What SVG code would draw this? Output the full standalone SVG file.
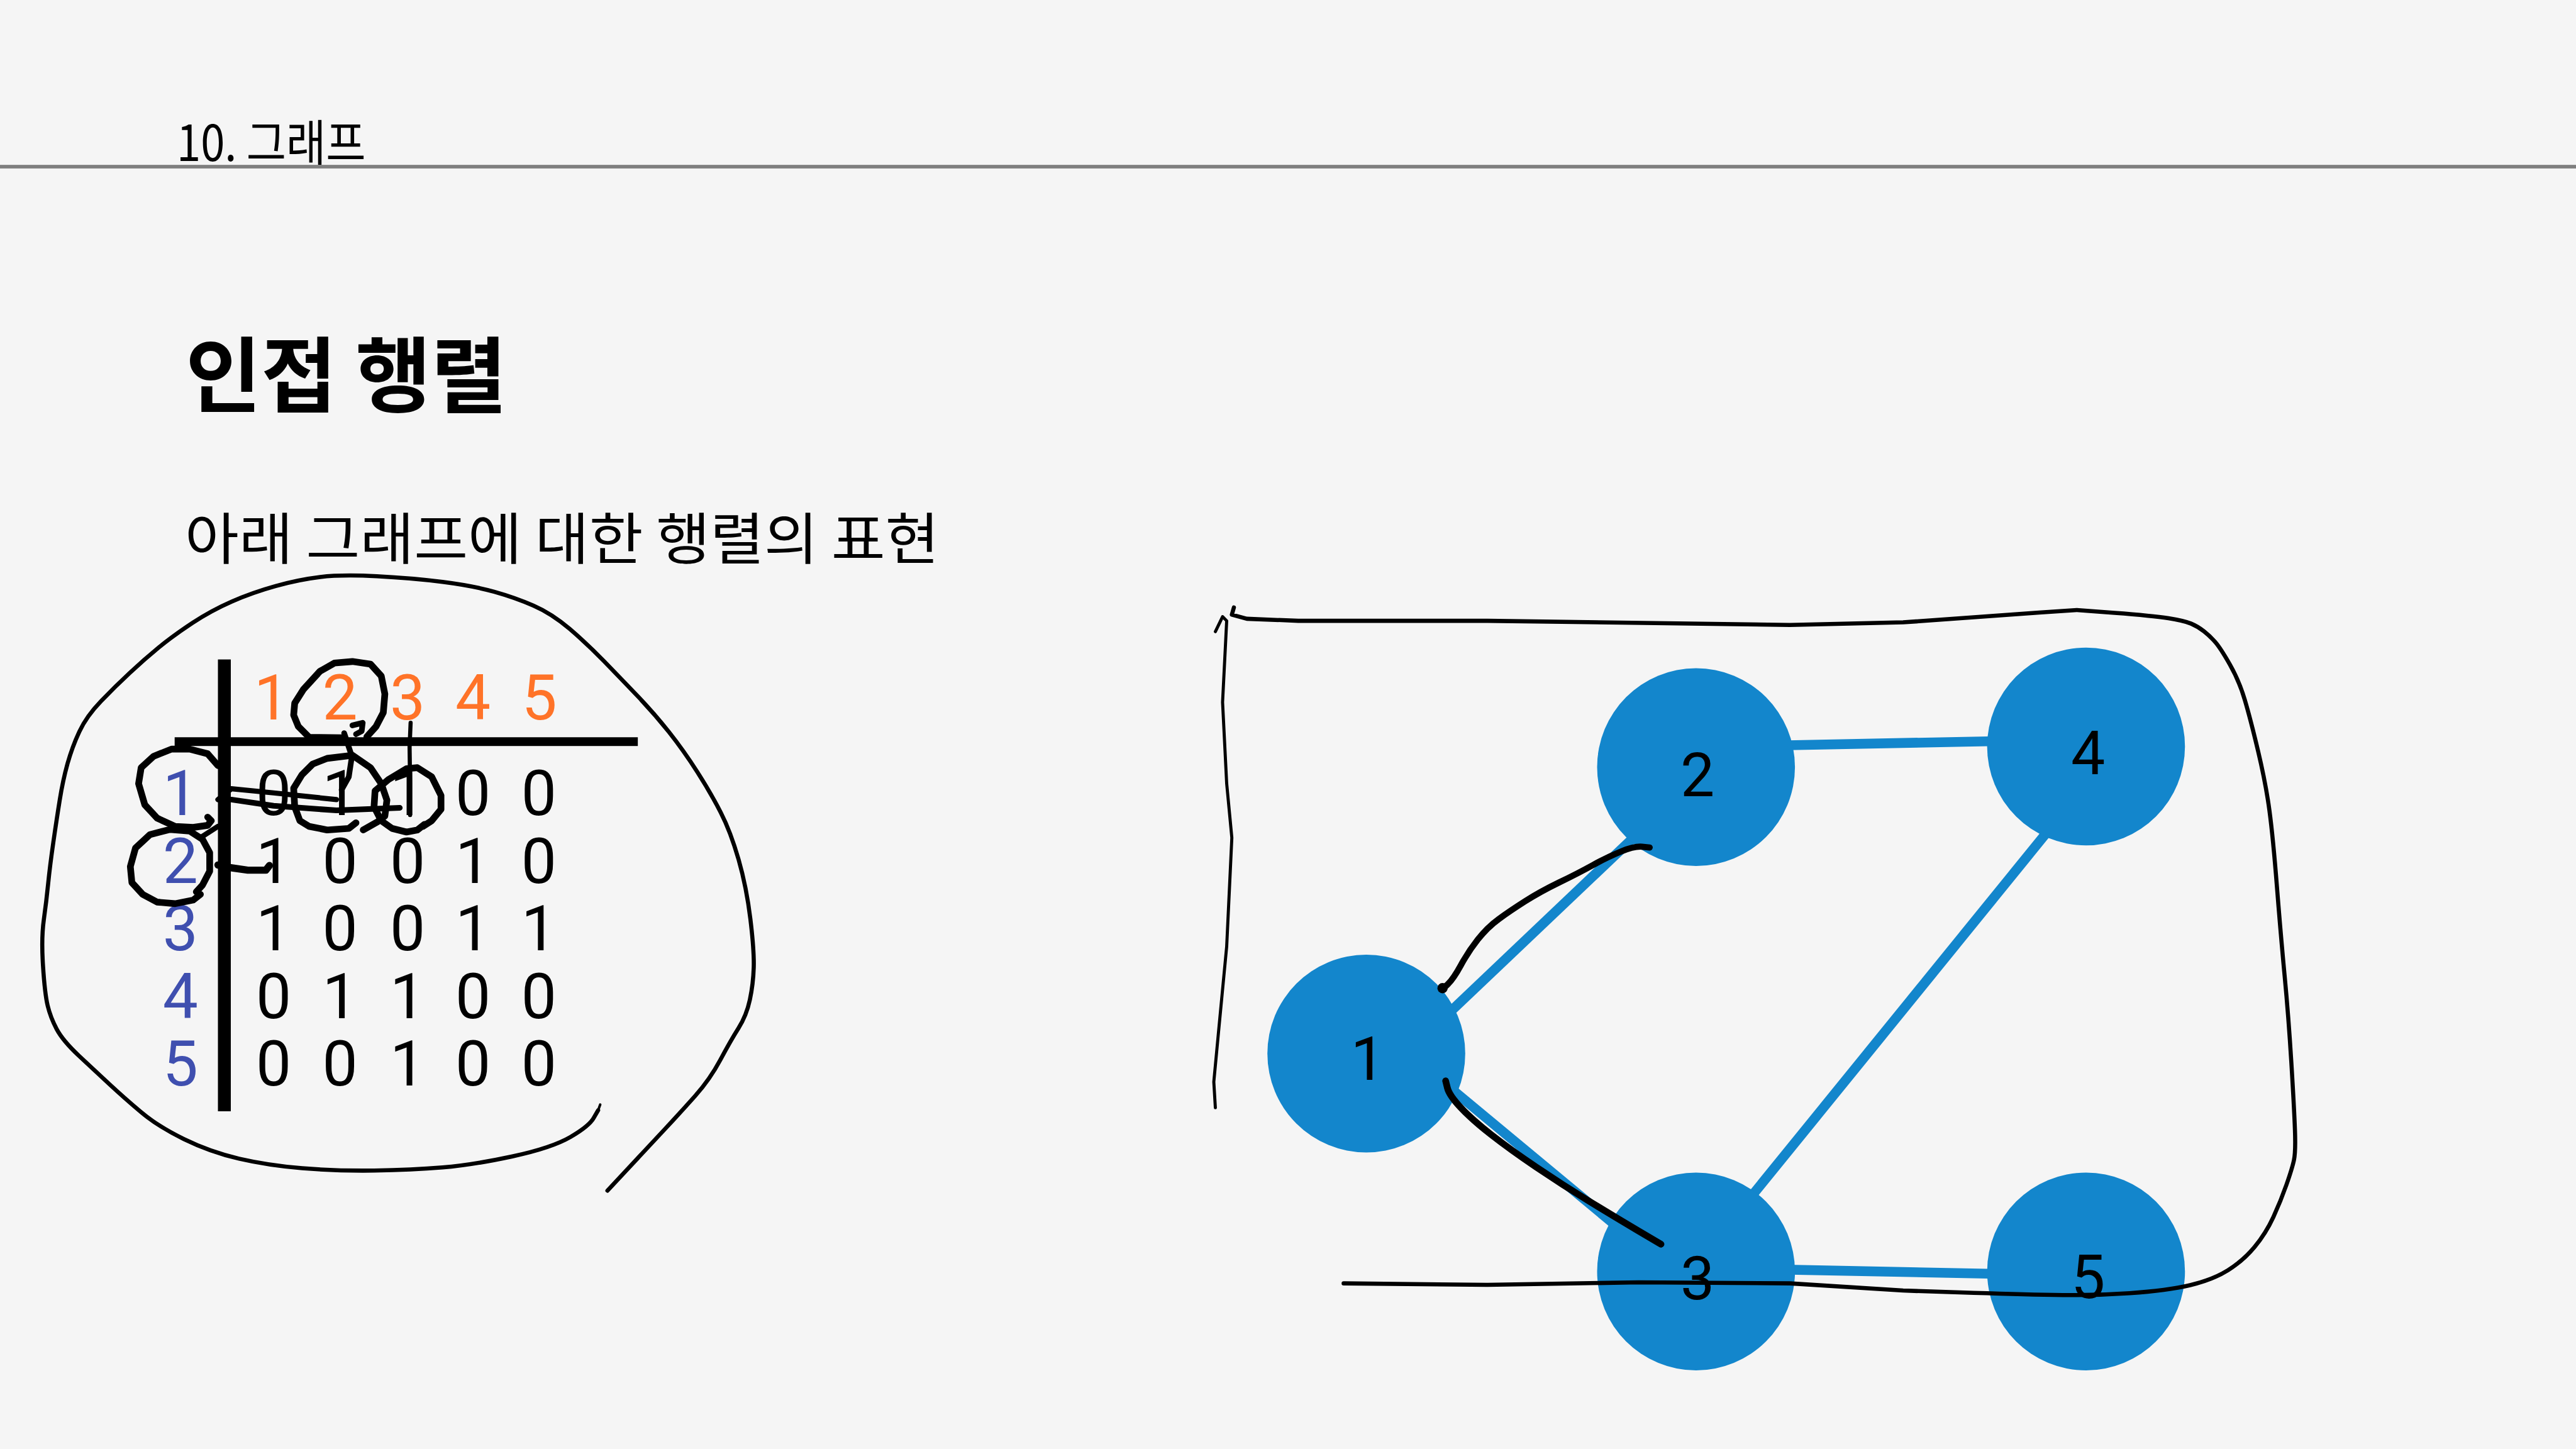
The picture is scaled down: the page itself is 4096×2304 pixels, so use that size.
<svg xmlns="http://www.w3.org/2000/svg" width="4096" height="2304" viewBox="0 0 4096 2304">
<style>
.kr{font-family:"Noto Sans CJK KR","Noto Sans",sans-serif;fill:#000}
.num{font-family:Roboto,"Liberation Sans",sans-serif;font-size:122px;text-anchor:middle}
.cell{fill:#000}
.col{fill:#FF7328}
.row{fill:#3F4FAF}
.hand{fill:none;stroke:#000;stroke-linecap:round;stroke-linejoin:round}
.edge{stroke:#1386CC;stroke-width:19;fill:none}
.node{fill:#1386CC}
.lbl{font-family:Roboto,"Liberation Sans",sans-serif;font-size:118px;text-anchor:middle;fill:#000}
</style>
<rect width="4096" height="2304" fill="#F5F5F5"/>
<g transform="scale(0.8192)">
  <g id="header">
    <text class="kr" x="343" y="313" font-size="96" textLength="367" lengthAdjust="spacingAndGlyphs">10. 그래프</text>
    <rect x="0" y="320" width="5000" height="7" fill="#7F7F7F"/>
  </g>
  <g id="title">
    <text class="kr" x="360" y="787" font-size="160" font-weight="bold" textLength="624" lengthAdjust="spacingAndGlyphs">인접 행렬</text>
  </g>
  <g id="subtitle">
    <text class="kr" x="359" y="1085" font-size="108" textLength="1464" lengthAdjust="spacingAndGlyphs">아래 그래프에 대한 행렬의 표현</text>
  </g>

  <g id="matrix">
    <rect x="423" y="1280" width="25" height="877" fill="#000"/>
    <rect x="339" y="1431" width="899" height="17" fill="#000"/>
    <g class="num col">
      <text x="527" y="1396">1</text><text x="660" y="1396">2</text><text x="791" y="1396">3</text><text x="918" y="1396">4</text><text x="1047" y="1396">5</text>
    </g>
    <g class="num row">
      <text x="350" y="1582">1</text><text x="350" y="1714">2</text><text x="350" y="1845">3</text><text x="350" y="1976">4</text><text x="350" y="2107">5</text>
    </g>
    <g class="num cell">
      <text x="531" y="1582">0</text><text x="660" y="1582">1</text><text x="791" y="1582">1</text><text x="918" y="1582">0</text><text x="1046" y="1582">0</text>
      <text x="531" y="1714">1</text><text x="660" y="1714">0</text><text x="791" y="1714">0</text><text x="918" y="1714">1</text><text x="1046" y="1714">0</text>
      <text x="531" y="1845">1</text><text x="660" y="1845">0</text><text x="791" y="1845">0</text><text x="918" y="1845">1</text><text x="1046" y="1845">1</text>
      <text x="531" y="1976">0</text><text x="660" y="1976">1</text><text x="791" y="1976">1</text><text x="918" y="1976">0</text><text x="1046" y="1976">0</text>
      <text x="531" y="2107">0</text><text x="660" y="2107">0</text><text x="791" y="2107">1</text><text x="918" y="2107">0</text><text x="1046" y="2107">0</text>
    </g>
  </g>

  <g id="connectors">
    <line class="edge" x1="3400" y1="1448" x2="3950" y2="1437"/>
    <line class="edge" x1="2800" y1="1978" x2="3200" y2="1598"/>
    <line class="edge" x1="2790" y1="2091" x2="3180" y2="2415"/>
    <line class="edge" x1="3350" y1="2383" x2="4010" y2="1570"/>
    <line class="edge" x1="3400" y1="2463" x2="3950" y2="2474"/>
  </g>
  <g id="node1"><circle class="node" cx="2652" cy="2045" r="192"/><text class="lbl" x="2655" y="2096">1</text></g>
  <g id="node2"><circle class="node" cx="3292" cy="1489" r="192"/><text class="lbl" x="3295" y="1545">2</text></g>
  <g id="node3"><circle class="node" cx="3292" cy="2468" r="192"/><text class="lbl" x="3295" y="2522">3</text></g>
  <g id="node4"><circle class="node" cx="4049" cy="1449" r="192"/><text class="lbl" x="4053" y="1503">4</text></g>
  <g id="node5"><circle class="node" cx="4049" cy="2468" r="192"/><text class="lbl" x="4053" y="2520">5</text></g>

  <g id="annotations">
    <path class="hand" stroke-width="8" d="M1161,2155 L1152,2170.5 Q1143,2186 1107,2207 Q1071,2228 994.5,2244.5 Q918,2261 859,2266 Q800,2271 726.5,2272 Q653,2273 586.5,2267.5 Q520,2262 464,2249 Q408,2236 357,2211 Q306,2186 273,2158 Q240,2130 212,2104 Q184,2078 153,2049 Q122,2020 110,1997.5 Q98,1975 92.5,1952 Q87,1929 83.5,1875 Q80,1821 85,1785.5 Q90,1750 93.5,1715 Q97,1680 103.5,1635 Q110,1590 116,1552.5 Q122,1515 131,1482.5 Q140,1450 154,1420 Q168,1390 196,1361 Q224,1332 252,1306 Q280,1280 308.5,1256.5 Q337,1233 373.5,1209 Q410,1185 450,1167.5 Q490,1150 535,1137.5 Q580,1125 621.5,1120 Q663,1115 731.5,1118.5 Q800,1122 859,1129.5 Q918,1137 959,1148.5 Q1000,1160 1035.5,1175.5 Q1071,1191 1105.5,1220.5 Q1140,1250 1172,1283 Q1204,1316 1237,1350.5 Q1270,1385 1298.5,1421 Q1327,1457 1353.5,1498.5 Q1380,1540 1399,1577 Q1418,1614 1433.5,1668 Q1449,1722 1456.5,1784 Q1464,1846 1463,1878 Q1462,1910 1455.5,1940.5 Q1449,1971 1433.5,1995.5 Q1418,2020 1398,2057.5 Q1378,2095 1349,2127.5 Q1320,2160 1292.5,2189.5 Q1265,2219 1222,2265 L1179,2311"/>
    <path class="hand" stroke-width="5" d="M1161,2155 L1165,2144"/>
    <path class="hand" stroke-width="13" d="M666,1432 L600,1431 L579,1410 L570,1388 L572,1365 L589,1338 L621,1303 L649,1287 L684,1284 L719,1289 L740,1312 L747,1347 L744,1383 L730,1410 L712,1430"/>
    <path class="hand" stroke-width="11" d="M684,1408 L704,1403 L702,1419 L691,1425"/>
    <path class="hand" stroke-width="11" d="M668,1423 L683,1468 L677,1508 L663,1533"/>
    <path class="hand" stroke-width="8" d="M797,1403 L795,1450 L796,1520 L796,1582"/>
    <path class="hand" stroke-width="13" d="M423,1486 L403,1463 L368,1454 L333,1454 L298,1468 L274,1490 L269,1521 L281,1562 L305,1588 L340,1604 L375,1606 L403,1602 L410,1593 L403,1586"/>
    <path class="hand" stroke-width="10" d="M389,1626 L423,1604"/>
    <path class="hand" stroke-width="13" d="M381,1731 L393,1718 L407,1691 L407,1655 L393,1629 L368,1613 L330,1610 L291,1620 L263,1646 L253,1682 L256,1713 L277,1736 L305,1751 L340,1754 L375,1747 L389,1736"/>
    <path class="hand" stroke-width="14" d="M423,1679 L446,1684 L481,1689 L516,1689 L523,1680"/>
    <path class="hand" stroke-width="10" d="M423,1552 L449,1531 L531,1539 L653,1552"/>
    <path class="hand" stroke-width="11" d="M449,1552 L531,1564 L653,1573 L776,1568"/>
    <path class="hand" stroke-width="13" d="M691,1597 L677,1608 L635,1611 L600,1604 L582,1593 L572,1566 L570,1530 L586,1504 L607,1483 L635,1472 L684,1466 L719,1490 L740,1521 L751,1553 L747,1584 L733,1595 L705,1611"/>
    <path class="hand" stroke-width="13" d="M824,1600 L810,1611 L789,1615 L761,1608 L740,1593 L726,1566 L728,1535 L754,1513 L789,1492 L810,1490 L838,1508 L856,1544 L856,1571 L838,1593 L821,1604"/>

    <path class="hand" stroke-width="6" d="M2359,1226 L2373,1197 L2381,1205 L2373,1363 L2381,1521 L2391,1626 L2381,1837 L2366,1994 L2356,2100 L2359,2150"/>
    <path class="hand" stroke-width="8" d="M2395,1179 L2391,1193 L2420,1201 L2520,1205 L2887,1205 L3474,1213 L3694,1208 L3958,1189 L4031,1184 L4104.5,1189.5 Q4178,1195 4209,1200 Q4240,1205 4253,1210.5 Q4266,1216 4278,1225.5 Q4290,1235 4300,1246.5 Q4310,1258 4328,1289.5 Q4346,1321 4357,1358 Q4368,1395 4383,1458 Q4398,1521 4405,1573.5 Q4412,1626 4419.5,1721 Q4427,1816 4434.5,1894.5 Q4442,1973 4447.5,2062.5 Q4453,2152 4454.5,2194 Q4456,2236 4452.5,2252 Q4449,2268 4438,2299.5 Q4427,2331 4412.5,2362.5 Q4398,2394 4376,2420.5 Q4354,2447 4324.5,2465.5 Q4295,2484 4251,2494.5 Q4207,2505 4133.5,2510 Q4060,2515 3987,2513.5 Q3914,2512 3804,2508.5 L3694,2505 L3474,2491 L3180,2489 L2887,2494 L2608,2491"/>
    <path class="hand" stroke-width="12" d="M3202,1645 L3187.5,1643.5 Q3173,1642 3147,1652.5 Q3121,1663 3092,1679 Q3063,1695 3026,1713 Q2989,1731 2960,1749.5 Q2931,1768 2909,1784 Q2887,1800 2868.5,1823.5 Q2850,1847 2835.5,1873.5 Q2821,1900 2810,1910.5 L2799,1921"/>
    <circle cx="2800" cy="1918" r="10" fill="#000"/>
    <path class="hand" stroke-width="13" d="M2806,2098 L2809.5,2112 Q2813,2126 2835,2149.5 Q2857,2173 2894,2202 Q2931,2231 2982,2265.5 Q3033,2300 3084.5,2331.5 Q3136,2363 3180,2389 L3224,2415"/>
  </g>
</g>
</svg>
